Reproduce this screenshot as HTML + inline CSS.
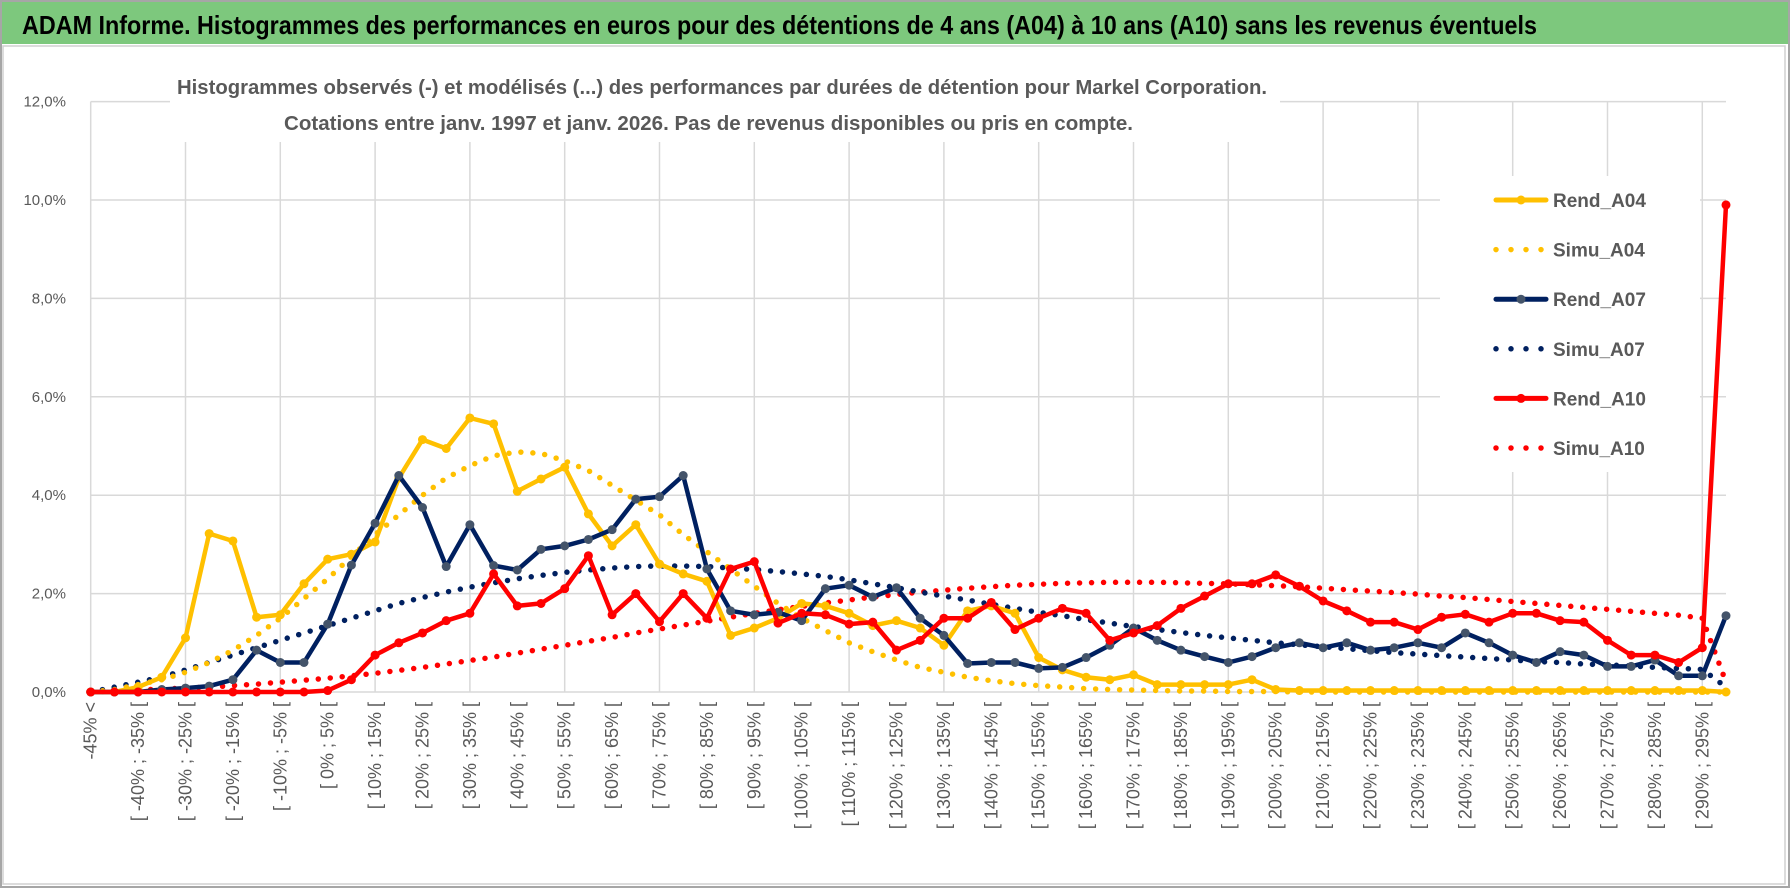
<!DOCTYPE html>
<html><head><meta charset="utf-8">
<style>
html,body{margin:0;padding:0;background:#fff;}
svg{display:block;font-family:"Liberation Sans",sans-serif;}
</style></head>
<body>
<svg id="chart" width="1790" height="888" viewBox="0 0 1790 888">
  <rect x="0" y="0" width="1790" height="888" fill="#fff"/>
  <rect x="1" y="1" width="1788" height="886" fill="none" stroke="#a6a6a6" stroke-width="2"/>
  <rect x="2" y="2" width="1786" height="42" fill="#7dc87d"/>
  <text x="22" y="34" font-size="26" font-weight="bold" fill="#000" textLength="1515" lengthAdjust="spacingAndGlyphs">ADAM Informe. Histogrammes des performances en euros pour des détentions de 4 ans (A04) à 10 ans (A10) sans les revenus éventuels</text>
  <rect x="3" y="46" width="1782" height="838" fill="none" stroke="#d0d0d0" stroke-width="1.5"/>
  <g id="grid"></g>
  <g id="yticks"></g>
  <g id="xticks"></g>
  <rect x="170" y="66" width="1110" height="76" fill="#fff"/>
  <text x="177" y="94" font-size="20" font-weight="bold" fill="#595959" textLength="1090" lengthAdjust="spacingAndGlyphs">Histogrammes observés (-) et modélisés (...) des performances par durées de détention pour Markel Corporation.</text>
  <text x="284" y="130" font-size="20" font-weight="bold" fill="#595959" textLength="849" lengthAdjust="spacingAndGlyphs">Cotations entre janv. 1997 et janv. 2026. Pas de revenus disponibles ou pris en compte.</text>
  <rect x="1440" y="176" width="260" height="296" fill="#fff"/>
  <g id="series"></g>
  <g id="legend"></g>
</svg>
<script>
const categories = [];
categories.push("-45% <");
for (let k = 1; k < 70; k++) { const a = -45 + 5 * (k - 1); categories.push("[ " + a + "% ; " + (a + 5) + "% ["); }
const yTicks = [0, 2, 4, 6, 8, 10, 12];
const yTickLabels = ["0,0%", "2,0%", "4,0%", "6,0%", "8,0%", "10,0%", "12,0%"];
const rendA04 = [0,0,0.1,0.3,1.1,3.22,3.07,1.52,1.57,2.2,2.7,2.8,3.05,4.35,5.13,4.95,5.57,5.45,4.08,4.33,4.57,3.62,2.97,3.4,2.6,2.4,2.25,1.15,1.3,1.5,1.8,1.75,1.6,1.35,1.45,1.3,0.95,1.65,1.75,1.6,0.7,0.45,0.3,0.25,0.35,0.15,0.15,0.15,0.15,0.25,0.05,0.03,0.03,0.03,0.03,0.03,0.03,0.03,0.03,0.03,0.03,0.03,0.03,0.03,0.03,0.03,0.03,0.03,0.03,0];
const simuA04 = [0,0.05,0.15,0.25,0.4,0.6,0.85,1.15,1.5,1.9,2.3,2.75,3.2,3.6,4.0,4.35,4.6,4.8,4.88,4.85,4.7,4.5,4.2,3.9,3.6,3.2,2.85,2.5,2.15,1.8,1.5,1.25,1.0,0.82,0.65,0.5,0.4,0.3,0.23,0.17,0.13,0.1,0.07,0.05,0.04,0.03,0.02,0.02,0.01,0.01,0.01,0,0,0,0,0,0,0,0,0,0,0,0,0,0,0,0,0,0,0];
const rendA07 = [0,0,0,0.05,0.08,0.12,0.25,0.85,0.6,0.6,1.38,2.58,3.43,4.4,3.75,2.55,3.4,2.57,2.48,2.9,2.97,3.1,3.3,3.92,3.97,4.4,2.5,1.65,1.57,1.62,1.45,2.1,2.17,1.93,2.12,1.5,1.15,0.58,0.6,0.6,0.48,0.5,0.7,0.95,1.3,1.05,0.85,0.72,0.6,0.72,0.9,1.0,0.9,1.0,0.85,0.9,1.0,0.9,1.2,1.0,0.75,0.6,0.82,0.75,0.52,0.52,0.65,0.33,0.33,1.55];
const simuA07 = [0,0.1,0.2,0.3,0.45,0.6,0.75,0.9,1.05,1.2,1.35,1.5,1.65,1.8,1.92,2.03,2.13,2.22,2.3,2.37,2.43,2.48,2.52,2.55,2.56,2.56,2.55,2.52,2.49,2.45,2.4,2.35,2.28,2.2,2.12,2.03,1.95,1.87,1.78,1.7,1.62,1.55,1.47,1.4,1.33,1.27,1.21,1.15,1.1,1.05,1.0,0.96,0.92,0.88,0.84,0.8,0.77,0.74,0.71,0.68,0.65,0.62,0.6,0.57,0.55,0.53,0.5,0.48,0.46,0.1];
const rendA10 = [0,0,0,0,0,0,0,0,0,0,0.03,0.25,0.75,1.0,1.2,1.45,1.6,2.4,1.75,1.8,2.1,2.77,1.57,2.0,1.43,2.0,1.5,2.5,2.65,1.4,1.6,1.57,1.38,1.42,0.85,1.05,1.5,1.5,1.82,1.27,1.5,1.7,1.6,1.05,1.2,1.35,1.7,1.95,2.2,2.2,2.38,2.15,1.85,1.65,1.42,1.42,1.27,1.52,1.58,1.42,1.6,1.6,1.45,1.42,1.05,0.75,0.75,0.6,0.9,9.9];
const simuA10 = [0,0.02,0.04,0.06,0.08,0.1,0.13,0.16,0.2,0.24,0.28,0.33,0.38,0.44,0.5,0.57,0.64,0.71,0.79,0.87,0.95,1.03,1.11,1.2,1.28,1.36,1.44,1.52,1.6,1.67,1.74,1.81,1.87,1.93,1.98,2.03,2.07,2.11,2.14,2.17,2.19,2.21,2.22,2.23,2.23,2.23,2.22,2.21,2.2,2.18,2.16,2.14,2.11,2.08,2.05,2.02,1.99,1.95,1.92,1.88,1.84,1.8,1.76,1.72,1.68,1.64,1.6,1.56,1.5,0.2];
const seriesNames = ["Rend_A04","Simu_A04","Rend_A07","Simu_A07","Rend_A10","Simu_A10"];

const NS = "http://www.w3.org/2000/svg";
const X0 = 90.7, DX = 23.7, Y0 = 692, YMAX = 12, YTOP = 101.6;
function xScale(i){ return X0 + DX * i; }
function yScale(v){ return Y0 - (Y0 - YTOP) * v / YMAX; }
function mk(tag, attrs, parent){ const e = document.createElementNS(NS, tag); for (const k in attrs) e.setAttribute(k, attrs[k]); parent.appendChild(e); return e; }

const grid = document.getElementById("grid");
const xEnd = xScale(categories.length - 1);
yTicks.forEach((t, j) => {
  const l = mk("line", {x1: X0, x2: xEnd, y1: yScale(t), y2: yScale(t), stroke: "#d9d9d9", "stroke-width": 1.5}, grid);
  
  
  const tx = mk("text", {x: 66, y: yScale(t) + 5, "text-anchor": "end", "font-size": 15, fill: "#595959"}, document.getElementById("yticks"));
  tx.textContent = yTickLabels[j];
  
  
});
for (let i = 0; i < categories.length; i += 4) {
  const l = mk("line", {x1: xScale(i), x2: xScale(i), y1: YTOP, y2: Y0, stroke: "#d9d9d9", "stroke-width": 1.5}, grid);
  
  
}
const xt = document.getElementById("xticks");
for (let i = 0; i < categories.length; i += 2) {
  const x = xScale(i) + 6, y = 702;
  const tx = mk("text", {x: x, y: y, "text-anchor": "end", "font-size": 18, fill: "#595959", transform: "rotate(-90 " + x + " " + y + ")"}, xt);
  tx.textContent = categories[i];
  
  
}

const sg = document.getElementById("series");
function drawSolid(vals, color, markerColor, name){
  const g = mk("g", {}, sg);
  
  
  const pts = vals.map((v, i) => xScale(i).toFixed(1) + "," + yScale(v).toFixed(1)).join(" ");
  mk("polyline", {points: pts, fill: "none", stroke: color, "stroke-width": 4.5, "stroke-linejoin": "round"}, g);
  vals.forEach((v, i) => {
    const c = mk("circle", {cx: xScale(i), cy: yScale(v), r: 4.5, fill: markerColor}, g);
    
    
  });
}
function drawDotted(vals, color, name){
  const pts = vals.map((v, i) => xScale(i).toFixed(1) + "," + yScale(v).toFixed(1)).join(" ");
  const p = mk("polyline", {points: pts, fill: "none", stroke: color, "stroke-width": 5.5, "stroke-linecap": "round", "stroke-dasharray": "0 12"}, sg);
  
  
}
drawDotted(simuA10, "#ff0000", "simu-a10-line");
drawDotted(simuA07, "#002060", "simu-a07-line");
drawDotted(simuA04, "#ffc000", "simu-a04-line");
drawSolid(rendA04, "#ffc000", "#ffc000", "rend-a04-line");
drawSolid(rendA07, "#002060", "#44546a", "rend-a07-line");
drawSolid(rendA10, "#ff0000", "#ff0000", "rend-a10-line");

const lg = document.getElementById("legend");
const legColors = ["#ffc000","#ffc000","#002060","#002060","#ff0000","#ff0000"];
const legMarkers = ["#ffc000",null,"#44546a",null,"#ff0000",null];
seriesNames.forEach((n, j) => {
  const y = 200 + j * 49.6;
  const g = mk("g", {}, lg);
  
  
  if (legMarkers[j]) {
    mk("line", {x1: 1496, x2: 1546, y1: y, y2: y, stroke: legColors[j], "stroke-width": 5, "stroke-linecap": "round"}, g);
    mk("circle", {cx: 1521, cy: y, r: 4.5, fill: legMarkers[j]}, g);
  } else {
    mk("line", {x1: 1496, x2: 1546, y1: y, y2: y, stroke: legColors[j], "stroke-width": 5.5, "stroke-linecap": "round", "stroke-dasharray": "0 15"}, g);
  }
  const t = mk("text", {x: 1553, y: y + 7, "font-size": 19, "font-weight": "bold", fill: "#595959"}, g);
  t.textContent = n;
});
</script>
</body></html>
